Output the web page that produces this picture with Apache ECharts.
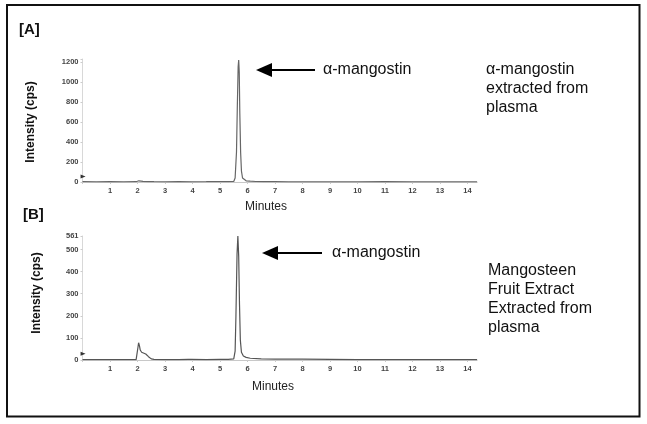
<!DOCTYPE html>
<html>
<head>
<meta charset="utf-8">
<script src="https://cdn.jsdelivr.net/npm/echarts@6/dist/echarts.min.js"></script>
<style>
html,body{margin:0;padding:0;background:#fff;}
#chart{width:647px;height:424px;}
</style>
</head>
<body>
<div id="chart"></div>
<script>
// Panel A: alpha-mangostin extracted from plasma
const timesA = [0, 0.5, 1, 1.5, 1.95, 2.0, 2.05, 2.1, 2.2, 2.4, 2.6, 3, 3.5, 4, 4.5, 4.8, 5, 5.3, 5.5, 5.55, 5.6, 5.63, 5.66, 5.68, 5.7, 5.72, 5.75, 5.78, 5.82, 5.88, 5.95, 6.1, 6.3, 6.6, 7, 7.5, 8, 9, 10, 11, 12, 13, 14, 14.35];
const intensityA = [3, 2, 3, 2, 3, 8, 12, 10, 6, 4, 3, 2, 3, 2, 3, 5, 4, 3, 5, 40, 300, 750, 1150, 1220, 1100, 700, 300, 110, 40, 20, 12, 8, 5, 3, 3, 2, 2, 2, 2, 3, 2, 2, 2, 2];
// Panel B: mangosteen fruit extract extracted from plasma
const timesB = [0, 0.5, 1, 1.5, 1.95, 1.99, 2.02, 2.04, 2.07, 2.1, 2.15, 2.2, 2.3, 2.35, 2.4, 2.45, 2.5, 2.6, 3, 3.5, 3.85, 3.9, 3.95, 4.5, 5, 5.3, 5.5, 5.55, 5.58, 5.62, 5.65, 5.68, 5.71, 5.74, 5.78, 5.85, 5.95, 6.1, 6.5, 7, 7.5, 8, 9, 10, 11, 12, 13, 14, 14.35];
const intensityB = [2, 2, 2, 2, 2, 5, 60, 78, 65, 45, 35, 30, 27, 20, 15, 10, 5, 3, 2, 2, 3, 6, 3, 2, 3, 3, 5, 40, 200, 480, 561, 470, 250, 90, 35, 18, 12, 8, 5, 4, 4, 4, 3, 2, 2, 2, 2, 2, 2];
const xTicks = [1, 2, 3, 4, 5, 6, 7, 8, 9, 10, 11, 12, 13, 14];
const yTicksA = [0, 200, 400, 600, 800, 1000, 1200];
const yTicksB = [0, 100, 200, 300, 400, 500, 561];

const chart = echarts.init(document.getElementById('chart'), null, {renderer: 'canvas'});
const font = 'Liberation Sans, Arial, sans-serif';
const tickStyle = {fontSize: 7.5, fontWeight: 'bold', color: '#444', fontFamily: font};
function xAxis(idx) {
  return {
    type: 'value', gridIndex: idx, min: 0, max: 14.35, interval: 1,
    axisLine: {lineStyle: {color: '#c8c8c8', width: 1}},
    axisTick: {show: true, length: 2, lineStyle: {color: '#ccc'}},
    splitLine: {show: false},
    axisLabel: Object.assign({margin: 5, showMaxLabel: false,
      formatter: v => xTicks.indexOf(v) >= 0 ? String(v) : ''}, tickStyle)
  };
}
function yAxis(idx, max, interval, ticks) {
  return {
    type: 'value', gridIndex: idx, min: 0, max: max, interval: interval,
    axisLine: {show: true, lineStyle: {color: '#d8d8d8', width: 1}},
    axisTick: {show: true, length: 2, lineStyle: {color: '#ccc'}},
    splitLine: {show: false},
    axisLabel: Object.assign({margin: 4,
      formatter: v => ticks.indexOf(v) >= 0 ? String(v) : ''}, tickStyle)
  };
}
function pairs(t, v) { return t.map((x, i) => [x, v[i]]); }
const markerTri = {
  symbol: 'triangle', symbolSize: [4, 5], symbolRotate: -90, silent: true,
  itemStyle: {color: '#333'}, label: {show: false}
};

chart.setOption({
  animation: false,
  backgroundColor: '#fff',
  grid: [
    {left: 82.5, width: 394.6, top: 59, height: 123},
    {left: 82.5, width: 394.6, top: 236, height: 124}
  ],
  xAxis: [xAxis(0), xAxis(1)],
  yAxis: [yAxis(0, 1230, 200, yTicksA), yAxis(1, 561, 100, yTicksB)],
  series: [
    {type: 'line', xAxisIndex: 0, yAxisIndex: 0, data: pairs(timesA, intensityA),
     showSymbol: false, lineStyle: {color: '#666', width: 1.2},
     markPoint: Object.assign({data: [{coord: [0.02, 55]}]}, markerTri)},
    {type: 'line', xAxisIndex: 1, yAxisIndex: 1, data: pairs(timesB, intensityB),
     showSymbol: false, lineStyle: {color: '#555', width: 1.2},
     markPoint: Object.assign({data: [{coord: [0.02, 28]}]}, markerTri)}
  ],
  graphic: [
    {type: 'rect', shape: {x: 7, y: 5, width: 632.5, height: 411.5},
     style: {fill: 'none', stroke: '#111', lineWidth: 2}},
    {type: 'text', left: 19, top: 22, style: {text: '[A]', font: 'bold 15px ' + font, fill: '#111'}},
    {type: 'text', left: 23, top: 207, style: {text: '[B]', font: 'bold 15px ' + font, fill: '#111'}},
    {type: 'text', x: 31, y: 122, rotation: Math.PI / 2,
     style: {text: 'Intensity (cps)', font: 'bold 12px ' + font, fill: '#111', align: 'center', verticalAlign: 'middle'}},
    {type: 'text', x: 37, y: 293, rotation: Math.PI / 2,
     style: {text: 'Intensity (cps)', font: 'bold 12px ' + font, fill: '#111', align: 'center', verticalAlign: 'middle'}},
    {type: 'text', x: 266, y: 207, style: {text: 'Minutes', font: '12px ' + font, fill: '#222', align: 'center', verticalAlign: 'middle'}},
    {type: 'text', x: 273, y: 387, style: {text: 'Minutes', font: '12px ' + font, fill: '#222', align: 'center', verticalAlign: 'middle'}},
    // arrows
    {type: 'line', shape: {x1: 270, y1: 70, x2: 315, y2: 70}, style: {stroke: '#000', lineWidth: 2}},
    {type: 'polygon', shape: {points: [[256, 70], [272, 63], [272, 77]]}, style: {fill: '#000'}},
    {type: 'line', shape: {x1: 276, y1: 253, x2: 322, y2: 253}, style: {stroke: '#000', lineWidth: 2}},
    {type: 'polygon', shape: {points: [[262, 253], [278, 246], [278, 260]]}, style: {fill: '#000'}},
    {type: 'text', x: 323, y: 70, style: {text: 'α-mangostin', font: '16px ' + font, fill: '#111', verticalAlign: 'middle'}},
    {type: 'text', x: 332, y: 253, style: {text: 'α-mangostin', font: '16px ' + font, fill: '#111', verticalAlign: 'middle'}},
    {type: 'text', x: 486, y: 60, style: {text: 'α-mangostin\nextracted from\nplasma', font: '16px ' + font, lineHeight: 19, fill: '#111'}},
    {type: 'text', x: 488, y: 261, style: {text: 'Mangosteen\nFruit Extract\nExtracted from\nplasma', font: '16px ' + font, lineHeight: 19, fill: '#111'}}
  ]
});
</script>
</body>
</html>
